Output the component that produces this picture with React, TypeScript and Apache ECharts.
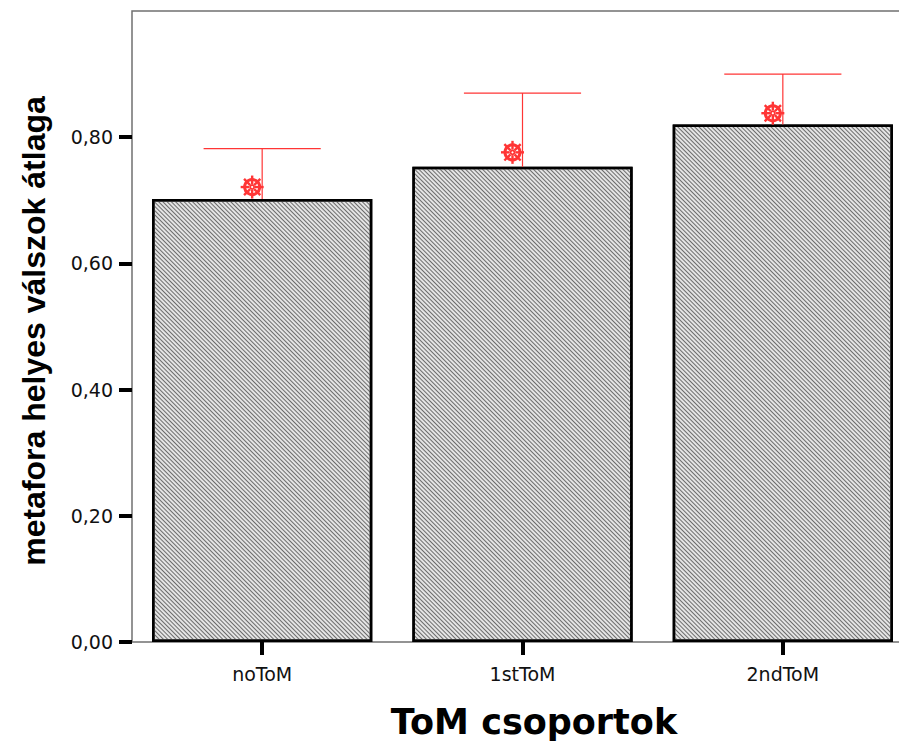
import React, { useEffect, useRef } from "react";
import * as echarts from "echarts";

const categories = ["noToM", "1stToM", "2ndToM"];
const barValues = [0.702, 0.753, 0.82];
const markerValues = [0.721, 0.776, 0.838];
const upperValues = [0.782, 0.87, 0.9];
const yTicks = [0, 0.2, 0.4, 0.6, 0.8];
const xTitle = "ToM csoportok";
const yTitle = "metafora helyes válszok átlaga";

export default function App() {
  const ref = useRef<HTMLDivElement>(null);
  useEffect(() => {
    if (!ref.current) return;
    const chart = echarts.init(ref.current, undefined, { renderer: "svg" });
    const red = "#ff3535";
    const option: any = {
      animation: false,
      backgroundColor: "#ffffff",
      grid: {
        left: 132,
        top: 11,
        width: 781,
        height: 631,
        show: true,
        borderColor: "#707070",
        borderWidth: 1.5,
        backgroundColor: "transparent",
      },
      xAxis: {
        type: "category",
        data: categories,
        axisLine: { show: false },
        axisTick: {
          show: true,
          alignWithLabel: true,
          length: 13,
          lineStyle: { color: "#000", width: 4 },
        },
        axisLabel: {
          margin: 22,
          fontSize: 19,
          fontFamily: "DejaVu Sans",
          color: "#111",
        },
        splitLine: { show: false },
      },
      yAxis: {
        type: "value",
        min: 0,
        max: 1,
        interval: 0.2,
        axisLine: { show: false },
        axisTick: {
          show: true,
          length: 13,
          customValues: yTicks,
          lineStyle: { color: "#000", width: 4 },
        },
        axisLabel: {
          margin: 19,
          fontSize: 19,
          fontFamily: "DejaVu Sans",
          color: "#111",
          customValues: yTicks,
          formatter: (v: number) => v.toFixed(2).replace(".", ","),
        },
        splitLine: { show: false },
      },
      graphic: [
        {
          type: "text",
          x: 534,
          y: 722,
          style: {
            text: xTitle,
            font: "bold 35px 'DejaVu Sans'",
            fill: "#000",
            textAlign: "center",
            textVerticalAlign: "middle",
          },
        },
        {
          type: "text",
          x: 34,
          y: 331,
          rotation: Math.PI / 2,
          style: {
            text: yTitle,
            font: "bold 32px 'Liberation Sans'",
            fill: "#000",
            textAlign: "center",
            textVerticalAlign: "middle",
          },
        },
      ],
      series: [
        {
          type: "bar",
          data: barValues,
          barCategoryGap: "15.4%",
          itemStyle: {
            color: "#e4e4e4",
            borderColor: "#000",
            borderWidth: 2.5,
            decal: {
              symbol: "rect",
              symbolSize: 1,
              dashArrayX: [1, 0],
              dashArrayY: [1, 1.3],
              rotation: Math.PI / 4,
              color: "#6c6c6c",
            },
          },
          z: 1,
        },
        {
          type: "custom",
          z: 3,
          data: categories.map((_, i) => [i, barValues[i], upperValues[i]]),
          renderItem: (params: any, api: any) => {
            const base = api.coord([api.value(0), api.value(1)]);
            const top = api.coord([api.value(0), api.value(2)]);
            const half = api.size([1, 0])[0] * 0.225;
            const st = { stroke: red, lineWidth: 1.2 };
            return {
              type: "group",
              children: [
                { type: "line", shape: { x1: base[0], y1: base[1], x2: top[0], y2: top[1] }, style: st },
                { type: "line", shape: { x1: top[0] - half, y1: top[1], x2: top[0] + half, y2: top[1] }, style: st },
              ],
            };
          },
        },
        {
          type: "custom",
          z: 4,
          data: categories.map((_, i) => [i, markerValues[i]]),
          renderItem: (params: any, api: any) => {
            const p = api.coord([api.value(0), api.value(1)]);
            const cx = p[0] - 10;
            const cy = p[1];
            const children: any[] = [
              { type: "circle", shape: { cx, cy, r: 7.5 }, style: { fill: "none", stroke: red, lineWidth: 3 } },
              { type: "circle", shape: { cx, cy, r: 2 }, style: { fill: "none", stroke: red, lineWidth: 1.8 } },
            ];
            for (let k = 0; k < 8; k++) {
              const a = (k * Math.PI) / 4;
              children.push({
                type: "line",
                shape: {
                  x1: cx + Math.cos(a) * 2.8,
                  y1: cy + Math.sin(a) * 2.8,
                  x2: cx + Math.cos(a) * 11.5,
                  y2: cy + Math.sin(a) * 11.5,
                },
                style: { stroke: red, lineWidth: 2.4 },
              });
            }
            return { type: "group", children };
          },
        },
      ],
    };
    chart.setOption(option);
    return () => chart.dispose();
  }, []);
  return (
    <div style={{ position: "absolute", left: 0, top: 0, width: 899, height: 742, overflow: "hidden", background: "#fff" }}>
      <div ref={ref} style={{ position: "absolute", left: 0, top: 0, width: 920, height: 742 }} />
    </div>
  );
}
